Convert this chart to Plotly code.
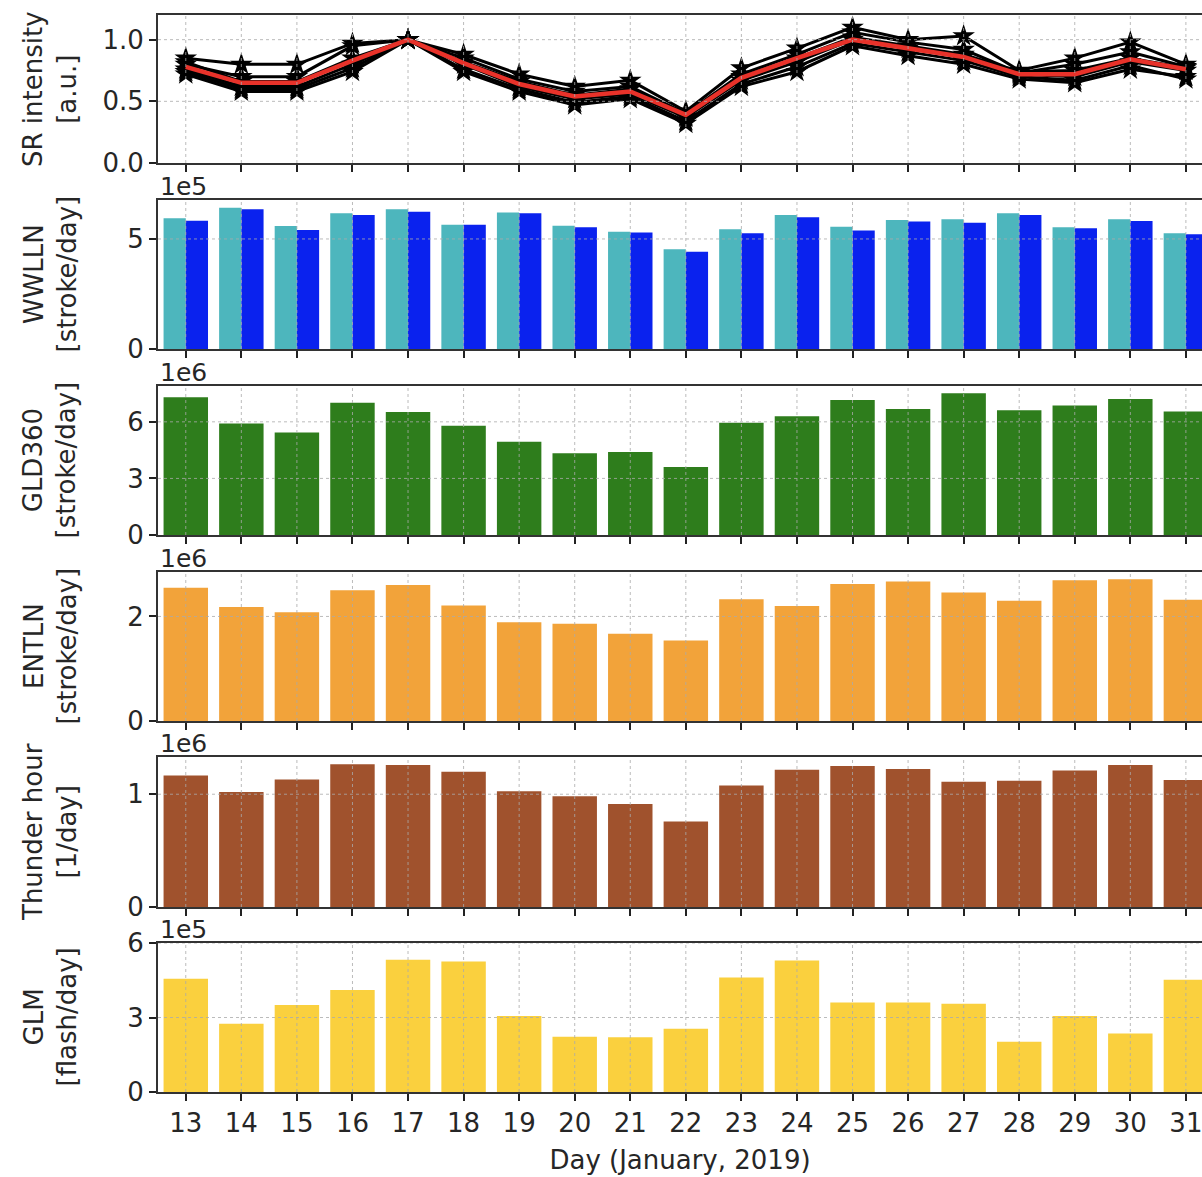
import plotly.graph_objects as go

days = list(range(13, 32))

# SR intensity (normalised) - individual stations (black) and mean (red)
sr_station_1 = [0.85, 0.80, 0.80, 0.97, 1.00, 0.88, 0.72, 0.62, 0.67, 0.42, 0.77, 0.93, 1.10, 1.00, 1.03, 0.75, 0.85, 0.98, 0.80]
sr_station_2 = [0.80, 0.70, 0.70, 0.95, 1.00, 0.85, 0.68, 0.58, 0.62, 0.40, 0.72, 0.88, 1.06, 0.98, 0.92, 0.73, 0.80, 0.90, 0.78]
sr_station_3 = [0.76, 0.62, 0.62, 0.80, 1.00, 0.80, 0.62, 0.52, 0.56, 0.37, 0.67, 0.82, 1.00, 0.93, 0.86, 0.72, 0.70, 0.82, 0.75]
sr_station_4 = [0.72, 0.58, 0.58, 0.74, 1.00, 0.74, 0.58, 0.47, 0.52, 0.32, 0.62, 0.74, 0.95, 0.87, 0.80, 0.68, 0.65, 0.76, 0.70]
sr_station_5 = [0.74, 0.60, 0.60, 0.77, 1.00, 0.76, 0.60, 0.49, 0.54, 0.34, 0.64, 0.78, 0.97, 0.90, 0.83, 0.70, 0.67, 0.79, 0.68]
sr_station_6 = [0.82, 0.66, 0.66, 0.85, 1.00, 0.82, 0.66, 0.55, 0.60, 0.38, 0.70, 0.85, 1.02, 0.95, 0.88, 0.74, 0.75, 0.85, 0.77]
sr_mean = [0.78, 0.65, 0.65, 0.83, 1.00, 0.81, 0.64, 0.54, 0.58, 0.39, 0.69, 0.85, 1.00, 0.93, 0.86, 0.72, 0.72, 0.84, 0.76]

# WWLLN stroke/day (two versions)
wwlln_a = [5.94e5, 6.42e5, 5.59e5, 6.17e5, 6.35e5, 5.64e5, 6.20e5, 5.60e5, 5.33e5, 4.53e5, 5.44e5, 6.09e5, 5.56e5, 5.86e5, 5.89e5, 6.17e5, 5.53e5, 5.89e5, 5.26e5]
wwlln_b = [5.83e5, 6.35e5, 5.41e5, 6.09e5, 6.24e5, 5.64e5, 6.17e5, 5.53e5, 5.29e5, 4.42e5, 5.26e5, 5.99e5, 5.38e5, 5.79e5, 5.74e5, 6.09e5, 5.49e5, 5.82e5, 5.21e5]

# GLD360 stroke/day
gld360 = [7.30e6, 5.91e6, 5.43e6, 7.01e6, 6.52e6, 5.79e6, 4.95e6, 4.33e6, 4.40e6, 3.60e6, 5.95e6, 6.30e6, 7.16e6, 6.68e6, 7.51e6, 6.62e6, 6.87e6, 7.21e6, 6.55e6]

# ENTLN stroke/day
entln = [2.55e6, 2.18e6, 2.08e6, 2.50e6, 2.60e6, 2.21e6, 1.89e6, 1.86e6, 1.67e6, 1.54e6, 2.33e6, 2.20e6, 2.62e6, 2.67e6, 2.46e6, 2.30e6, 2.69e6, 2.71e6, 2.32e6]

# Thunder hour 1/day
thunder = [1.167e6, 1.02e6, 1.13e6, 1.266e6, 1.26e6, 1.20e6, 1.027e6, 0.982e6, 0.913e6, 0.758e6, 1.078e6, 1.218e6, 1.25e6, 1.224e6, 1.11e6, 1.12e6, 1.21e6, 1.26e6, 1.125e6]

# GLM flash/day
glm = [4.56e5, 2.75e5, 3.50e5, 4.11e5, 5.33e5, 5.26e5, 3.06e5, 2.22e5, 2.20e5, 2.55e5, 4.61e5, 5.30e5, 3.60e5, 3.60e5, 3.55e5, 2.02e5, 3.06e5, 2.36e5, 4.52e5]

y_titles = ["SR intensity<br>[a.u.]", "WWLLN<br>[stroke/day]", "GLD360<br>[stroke/day]",
            "ENTLN<br>[stroke/day]", "Thunder hour<br>[1/day]", "GLM<br>[flash/day]"]
offset_texts = [None, "1e5", "1e6", "1e6", "1e6", "1e5"]
x_label = "Day (January, 2019)"

FONT = "DejaVu Sans"
TXT = "#262626"
W, H = 1202, 1177
ML, MR, MT, MB = 158, 0, 15, 85
plot_h = H - MT - MB
panel_px = [(15, 163), (200, 349), (386, 535), (572, 721), (757, 907), (943, 1092)]
domains = [[(H - MB - b) / plot_h, (H - MB - t) / plot_h] for (t, b) in panel_px]
domains[0][1] = 1.0
domains[-1][0] = 0.0

fig = go.Figure()

stations = [sr_station_1, sr_station_2, sr_station_3, sr_station_4, sr_station_5, sr_station_6]
for s in stations:
    fig.add_trace(go.Scatter(x=days, y=s, mode="lines+markers", xaxis="x", yaxis="y",
                             line=dict(color="black", width=3),
                             marker=dict(symbol="star", size=17, color="black"),
                             showlegend=False))
fig.add_trace(go.Scatter(x=days, y=sr_mean, mode="lines", xaxis="x", yaxis="y",
                         line=dict(color="#e8322a", width=4.5), showlegend=False))

fig.add_trace(go.Bar(x=days, y=wwlln_a, marker_color="#4db6bd", marker_line_width=0,
                     xaxis="x2", yaxis="y2", showlegend=False))
fig.add_trace(go.Bar(x=days, y=wwlln_b, marker_color="#0a22ee", marker_line_width=0,
                     xaxis="x2", yaxis="y2", showlegend=False))
fig.add_trace(go.Bar(x=days, y=gld360, marker_color="#2e7d1c", marker_line_width=0,
                     xaxis="x3", yaxis="y3", showlegend=False))
fig.add_trace(go.Bar(x=days, y=entln, marker_color="#f2a33a", marker_line_width=0,
                     xaxis="x4", yaxis="y4", showlegend=False))
fig.add_trace(go.Bar(x=days, y=thunder, marker_color="#a0522d", marker_line_width=0,
                     xaxis="x5", yaxis="y5", showlegend=False))
fig.add_trace(go.Bar(x=days, y=glm, marker_color="#fad03e", marker_line_width=0,
                     xaxis="x6", yaxis="y6", showlegend=False))

y_ranges = [[0, 1.2], [0, 6.77e5], [0, 7.9e6], [0, 2.85e6], [0, 1.33e6], [0, 6.0e5]]
y_tickvals = [[0, 0.5, 1.0], [0, 5e5], [0, 3e6, 6e6], [0, 2e6], [0, 1e6], [0, 3e5, 6e5]]
y_ticktext = [["0.0", "0.5", "1.0"], ["0", "5"], ["0", "3", "6"], ["0", "2"], ["0", "1"], ["0", "3", "6"]]

grid_col = "rgba(170,170,170,0.8)"
layout = dict(width=W, height=H, margin=dict(l=ML, r=MR, t=MT, b=MB),
              plot_bgcolor="white", paper_bgcolor="white",
              barmode="group", bargap=0.2, bargroupgap=0.0,
              font=dict(family=FONT, size=26, color=TXT))

shapes = []
for i in range(6):
    k = "" if i == 0 else str(i + 1)
    layout["xaxis" + k] = dict(
        domain=[0, 1], anchor="y" + k, range=[12.5, 31.29],
        tickmode="array", tickvals=days, ticktext=[str(d) for d in days],
        showticklabels=(i == 5), ticks="outside", ticklen=7, tickwidth=1.8, tickcolor="#222",
        ticklabeloverflow="allow",
        showline=True, linecolor="#333", linewidth=2, mirror=True,
        showgrid=False, zeroline=False, layer="above traces",
        tickfont=dict(size=26, color=TXT, family=FONT),
        title=dict(text=x_label if i == 5 else "", font=dict(size=26, color=TXT, family=FONT), standoff=14),
    )
    if i > 0:
        layout["xaxis" + k]["matches"] = "x"
    layout["yaxis" + k] = dict(
        domain=domains[i], anchor="x" + k, range=y_ranges[i],
        tickmode="array", tickvals=y_tickvals[i], ticktext=y_ticktext[i],
        ticks="outside", ticklen=7, tickwidth=1.8, tickcolor="#222",
        showline=True, linecolor="#333", linewidth=2, mirror=False,
        showgrid=False, zeroline=False, layer="above traces",
        tickfont=dict(size=26, color=TXT, family=FONT),
    )
    # dotted grid drawn above the bars (as in the matplotlib original)
    xr = "x" + k if k else "x"
    yr = "y" + k if k else "y"
    for d in days:
        shapes.append(dict(type="line", xref=xr, yref=yr + " domain", x0=d, x1=d, y0=0, y1=1,
                           line=dict(color=grid_col, width=1, dash="dot"), layer="above"))
    for tv in y_tickvals[i][1:]:
        shapes.append(dict(type="line", xref="x domain" if not k else "x" + k + " domain", yref=yr,
                           x0=0, x1=1, y0=tv, y1=tv,
                           line=dict(color=grid_col, width=1, dash="dot"), layer="above"))
layout["shapes"] = shapes

annotations = []
for i in range(6):
    yc = (domains[i][0] + domains[i][1]) / 2
    annotations.append(dict(text=y_titles[i], xref="paper", yref="paper",
                            x=(50 - ML) / (W - ML - MR), y=yc, xanchor="center", yanchor="middle",
                            textangle=-90, showarrow=False,
                            font=dict(size=26, color=TXT, family=FONT)))
    if offset_texts[i]:
        annotations.append(dict(text=offset_texts[i], xref="paper", yref="paper",
                                x=0.0, y=domains[i][1], xanchor="left", yanchor="bottom",
                                yshift=-3, showarrow=False,
                                font=dict(size=25, color=TXT, family=FONT)))
layout["annotations"] = annotations

fig.update_layout(**layout)
# keep the red mean line on top of the grid shapes is not needed; grid is faint
fig.write_html("out.html")
